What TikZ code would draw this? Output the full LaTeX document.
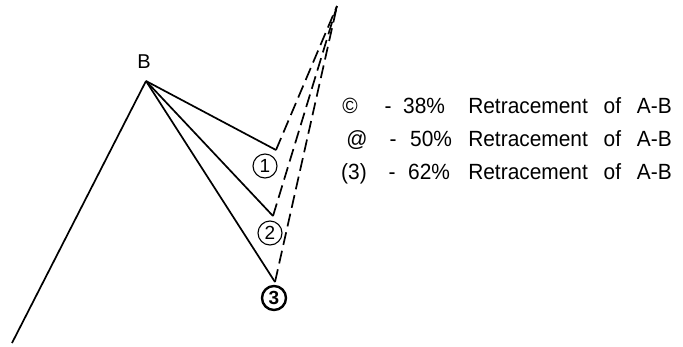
\documentclass[tikz,border=0pt]{standalone}
\usepackage{fontspec}
\setmainfont{Liberation Sans}
\newfontfamily\narrowsans{Liberation Sans}[FakeStretch=0.95]
\begin{document}
\begin{tikzpicture}[x=1pt, y=-1pt,
    leg/.style={line width=1.7pt, line join=miter},
    proj/.style={line width=1.7pt, dash pattern=on 13pt off 6pt},
    rnum/.style={circle, draw, line width=1.1pt, inner sep=0pt, minimum size=24pt, font=\fontsize{19}{19}\selectfont},
    txt/.style={font=\narrowsans\fontsize{22}{26}\selectfont, inner sep=0pt}]
    \useasboundingbox (0,0) rectangle (683,346);
    % Swing points
    \coordinate (a) at (12,343);
    \coordinate (b) at (146,81);
    \coordinate (w1) at (276,150);
    \coordinate (w2) at (273,216);
    \coordinate (w3) at (275,282);
    \coordinate (top) at (337,6);
    \node[txt, font=\fontsize{20}{24}\selectfont, anchor=base] (lblb) at (144,68) {B};
    % Impulse and retracements
    \draw[leg] (a) -- (b);
    \foreach \w in {w1,w2,w3} {
        \draw[leg] (b) -- (\w);
        \draw[proj] (\w) -- (top);
    }
    % Wave numbers
    \node[rnum] (n1) at (265,166) {1};
    \node[rnum] (n2) at (270,233) {2};
    \node[rnum, line width=2.4pt, font=\fontsize{19}{19}\selectfont\bfseries] (n3) at (274,298) {3};
    % Legend
    \foreach \s/\sx/\dx/\px/\p/\y in {{©}/350/388/403/38/113, @/357/393/410/50/146, {(3)}/354/392/408/62/179} {
        \node[txt, anchor=base] (sym\p) at (\sx,\y) {\s};
        \node[txt, anchor=base] (dash\p) at (\dx,\y) {-};
        \node[txt, anchor=base west] (pct\p) at (\px,\y) {\p\%};
        \node[txt, anchor=base east] (ret\p) at (672,\y) {Retracement\hspace{10pt} of\hspace{10pt} A-B};
    }
\end{tikzpicture}
\end{document}
